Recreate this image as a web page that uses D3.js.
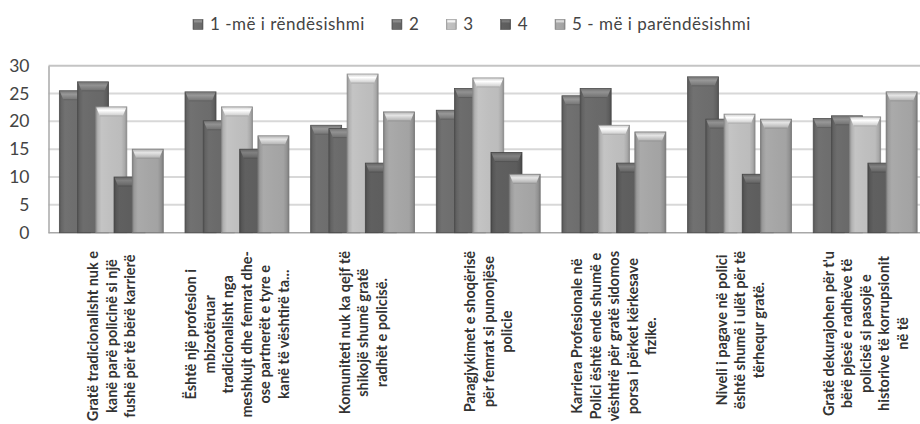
<!DOCTYPE html>
<html>
<head>
<meta charset="utf-8">
<script src="https://cdn.jsdelivr.net/npm/d3@7/dist/d3.min.js"></script>
<style>
  html, body { margin: 0; padding: 0; background: #ffffff; }
  svg { display: block; }
  text { font-family: Lato, "Open Sans", "DejaVu Sans", sans-serif; }
</style>
</head>
<body>
<svg id="chart" width="920" height="424"></svg>
<script>
// Category labels (each one split into its wrapped lines)
const categories = [
  ["Gratë tradicionalisht nuk e", "kanë parë policinë si një", "fushë për të bërë karrierë"],
  ["Është një profesion i", "mbizotëruar", "tradicionalisht nga", "meshkujt dhe femrat dhe-", "ose partnerët e tyre e", "kanë të vështirë ta..."],
  ["Komuniteti nuk ka qejf të", "shikojë shumë gratë", "radhët e policisë."],
  ["Paragjykimet e shoqërisë", "për femrat si punonjëse", "policie"],
  ["Karriera Profesionale në", "Polici është ende shumë e", "vështirë për gratë sidomos", "porsa i përket kërkesave", "fizike."],
  ["Niveli i pagave në polici", "është shumë i ulët për të", "tërhequr gratë."],
  ["Gratë dekurajohen për t'u", "bërë pjesë e radhëve të", "policisë si pasojë e", "historive të korrupsionit", "në të"]
];

// Series names and values (per category)
const seriesNames = ["1 -më i rëndësishmi", "2", "3", "4", "5 - më i parëndësishmi"];
const rank1 = [25.5, 25.3, 19.3, 22.0, 24.6, 28.0, 20.5];
const rank2 = [27.1, 20.1, 18.7, 25.9, 25.9, 20.4, 21.0];
const rank3 = [22.6, 22.6, 28.5, 27.8, 19.3, 21.3, 20.8];
const rank4 = [10.0, 15.0, 12.5, 14.4, 12.5, 10.5, 12.5];
const rank5 = [15.0, 17.4, 21.7, 10.5, 18.1, 20.4, 25.3];
const seriesValues = [rank1, rank2, rank3, rank4, rank5];

const yTicks = [0, 5, 10, 15, 20, 25, 30];

// Base fill for each series
const seriesColors = ["#6c6c6c", "#686868", "#bcbcbc", "#5c5c5c", "#a3a3a3"];

const svg = d3.select("#chart");
const defs = svg.append("defs");

const plot = { left: 48.5, right: 928, top: 65.7, bottom: 232.7 };

const x = d3.scaleBand()
  .domain(d3.range(categories.length))
  .range([plot.left, plot.right])
  .paddingInner(0.173)
  .paddingOuter(0.0865);

const barW = 31;
const xs = d3.scalePoint()
  .domain(d3.range(seriesNames.length))
  .range([0, x.bandwidth() - barW]);

const y = d3.scaleLinear().domain([0, 30]).range([plot.bottom, plot.top]);

// Gradients giving each bar a rounded, bevelled look
seriesColors.forEach((c, i) => {
  const base = d3.color(c);
  const side = defs.append("linearGradient")
    .attr("id", "side" + i).attr("x1", 0).attr("x2", 1).attr("y1", 0).attr("y2", 0);
  [[0, base.darker(0.7)], [0.07, base.darker(0.15)], [0.18, base.brighter(0.12)],
   [0.5, base.brighter(0.05)], [0.82, base], [0.93, base.darker(0.3)], [1, base.darker(0.8)]]
    .forEach(([o, col]) => side.append("stop").attr("offset", o).attr("stop-color", col.formatHex()));

  const cap = defs.append("linearGradient")
    .attr("id", "cap" + i).attr("x1", 0).attr("x2", 0).attr("y1", 0).attr("y2", 1);
  [[0, base.brighter(0.35)], [0.35, base.brighter(0.95)], [1, base.brighter(0.2)]]
    .forEach(([o, col]) => cap.append("stop").attr("offset", o).attr("stop-color", col.formatHex()));
});

// Gridlines
svg.append("g")
  .selectAll("line")
  .data(yTicks.filter(t => t > 0))
  .join("line")
  .attr("x1", plot.left).attr("x2", plot.right)
  .attr("y1", d => y(d)).attr("y2", d => y(d))
  .attr("stroke", t => t === 30 ? "#c4c4c4" : "#d8d8d8")
  .attr("stroke-width", 2);

// Y axis
const yAxis = svg.append("g")
  .attr("transform", `translate(${plot.left},0)`)
  .call(d3.axisLeft(y).tickValues(yTicks).tickSize(0).tickPadding(19));
yAxis.select(".domain").attr("stroke", "#a8a8a8").attr("stroke-width", 1.5);
yAxis.selectAll("text")
  .attr("font-size", 17.5)
  .attr("fill", "#444")
  .attr("font-family", "Lato, sans-serif");

// X baseline
svg.append("line")
  .attr("x1", plot.left).attr("x2", plot.right)
  .attr("y1", plot.bottom).attr("y2", plot.bottom)
  .attr("stroke", "#a8a8a8").attr("stroke-width", 1.5);

// Bars: series drawn in order so later ones overlap earlier ones
const groups = svg.append("g").selectAll("g")
  .data(categories.map((c, ci) => ci))
  .join("g")
  .attr("transform", ci => `translate(${x(ci)},0)`);

groups.each(function (ci) {
  const g = d3.select(this);
  seriesValues.forEach((vals, si) => {
    const v = vals[ci];
    const bx = xs(si), by = y(v), bh = y(0) - y(v);
    const bar = g.append("g");
    bar.append("rect")
      .attr("x", bx).attr("y", by).attr("width", barW).attr("height", bh)
      .attr("fill", `url(#side${si})`)
      .attr("stroke", d3.color(seriesColors[si]).darker(0.9).formatHex())
      .attr("stroke-width", 0.8);
    const capH = 9, inset = 4;
    bar.append("path")
      .attr("d", `M${bx + 0.5},${by + 0.5} L${bx + barW - 0.5},${by + 0.5} L${bx + barW - inset},${by + capH} L${bx + inset},${by + capH} Z`)
      .attr("fill", `url(#cap${si})`);
    bar.append("line")
      .attr("x1", bx + inset).attr("x2", bx + barW - inset)
      .attr("y1", by + capH).attr("y2", by + capH)
      .attr("stroke", d3.color(seriesColors[si]).darker(0.25).formatHex())
      .attr("stroke-width", 1);
  });
});

// Category labels: rotated, lines centred, block hanging from the axis
const labelTop = 251;
const lineH = 18.5;
const labels = svg.append("g").selectAll("g")
  .data(categories)
  .join("g")
  .attr("transform", (d, ci) => `translate(${x(ci) + x.bandwidth() / 2},${labelTop})`);

labels.each(function (lines) {
  const g = d3.select(this);
  const texts = lines.map((line, i) =>
    g.append("text")
      .text(line)
      .attr("font-size", 14.5)
      .attr("font-weight", 700)
      .attr("fill", "#333")
      .attr("text-anchor", "middle")
      .attr("dominant-baseline", "central"));
  const maxLen = d3.max(texts, t => t.node().getComputedTextLength());
  texts.forEach((t, i) => {
    const dx = (i - (lines.length - 1) / 2) * lineH;
    t.attr("transform", `translate(${dx},${maxLen / 2}) rotate(-90)`);
  });
});

// Legend
const legend = svg.append("g");
let lx = 193;
seriesNames.forEach((name, si) => {
  const item = legend.append("g");
  const base = d3.color(seriesColors[si]);
  item.append("rect")
    .attr("x", lx).attr("y", 19.5).attr("width", 10).attr("height", 10)
    .attr("fill", `url(#side${si})`)
    .attr("stroke", base.darker(0.6).formatHex()).attr("stroke-width", 0.6);
  item.append("rect")
    .attr("x", lx + 1).attr("y", 20).attr("width", 8).attr("height", 3)
    .attr("fill", `url(#cap${si})`);
  const t = item.append("text")
    .attr("x", lx + 17).attr("y", 30)
    .attr("font-size", 17)
    .attr("letter-spacing", 0.5)
    .attr("font-family", "'Open Sans', sans-serif")
    .attr("fill", "#444")
    .text(name);
  lx += 17 + t.node().getComputedTextLength() + 27;
});
</script>
</body>
</html>
